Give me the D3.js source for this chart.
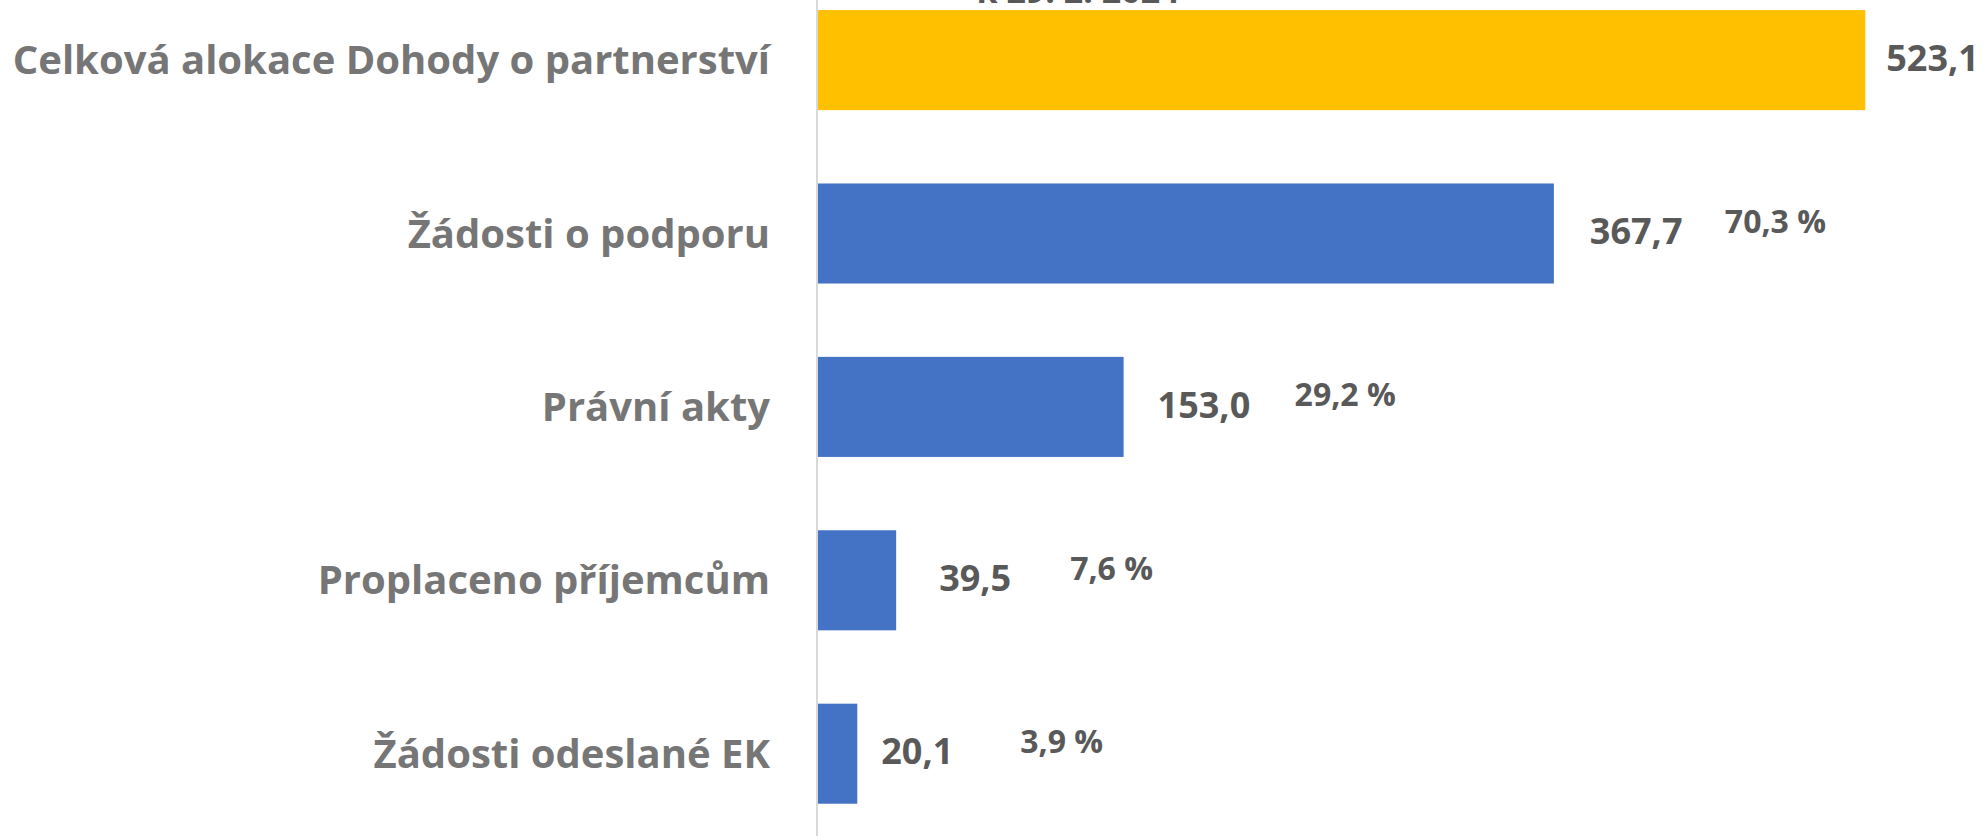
<!DOCTYPE html>
<html>
<head>
<meta charset="utf-8">
<script src="https://cdn.jsdelivr.net/npm/d3@7"></script>
<style>
  html, body { margin: 0; padding: 0; background: #ffffff; overflow: hidden; }
  svg { display: block; }
</style>
</head>
<body>
<svg id="chart" width="1985" height="836"></svg>
<script>
// ---- data ----
const categories = [
  "Celková alokace Dohody o partnerství",
  "Žádosti o podporu",
  "Právní akty",
  "Proplaceno příjemcům",
  "Žádosti odeslané EK"
];
const values = [523.1, 367.7, 153.0, 39.5, 20.1];
const valueLabels = ["523,1", "367,7", "153,0", "39,5", "20,1"];
const percentLabels = ["", "70,3 %", "29,2 %", "7,6 %", "3,9 %"];
const titleText = "k 29. 2. 2024";

// ---- layout / style (kept apart from data) ----
const barColors = ["#FFC000", "#4472C4", "#4472C4", "#4472C4", "#4472C4"];
const valueLabelGap = [21, 36, 34, 43, 24];
const percentLabelGap = [0, 135, 137, 131, 139];
const FONT = "'Open Sans', 'Noto Sans', sans-serif";

const W = 1985, H = 836;
const svg = d3.select("#chart");

const x = d3.scaleLinear().domain([0, 600]).range([817, 817 + 600 * 2.004]);
const y = d3.scaleBand()
  .domain(categories)
  .range([-26.6, 840.4])
  .paddingInner(0.423)
  .paddingOuter(0.2115);

// title fragment (cut off at top, as in the reference)
svg.append("text")
  .attr("x", 1078).attr("y", 3)
  .attr("text-anchor", "middle")
  .attr("font-family", FONT).attr("font-weight", 700)
  .attr("font-size", 34).attr("fill", "#595959")
  .text(titleText);

// bars
svg.selectAll("rect.bar")
  .data(values)
  .join("rect")
  .attr("class", "bar")
  .attr("x", x(0))
  .attr("y", (d, i) => y(categories[i]))
  .attr("width", d => x(d) - x(0))
  .attr("height", y.bandwidth())
  .attr("fill", (d, i) => barColors[i]);

// vertical axis line
svg.append("line")
  .attr("x1", x(0)).attr("x2", x(0))
  .attr("y1", 0).attr("y2", H)
  .attr("stroke", "#D9D9D9").attr("stroke-width", 2);

// category labels
const yAxis = d3.axisLeft(y).tickSize(0).tickPadding(0);
const gy = svg.append("g").attr("transform", `translate(770,0)`).call(yAxis);
gy.select(".domain").remove();
gy.selectAll("text")
  .attr("font-family", FONT).attr("font-weight", 700)
  .attr("font-size", 40).attr("fill", "#767676")
  .attr("dy", "0.35em");

// value labels
svg.selectAll("text.val")
  .data(values)
  .join("text")
  .attr("class", "val")
  .attr("x", (d, i) => x(d) + valueLabelGap[i])
  .attr("y", (d, i) => y(categories[i]) + y.bandwidth() / 2 - 2)
  .attr("dy", "0.35em")
  .attr("font-family", FONT).attr("font-weight", 700)
  .attr("font-size", 36).attr("fill", "#595959")
  .text((d, i) => valueLabels[i]);

// percent labels
svg.selectAll("text.pct")
  .data(values)
  .join("text")
  .attr("class", "pct")
  .attr("x", (d, i) => x(d) + valueLabelGap[i] + percentLabelGap[i])
  .attr("y", (d, i) => y(categories[i]) + y.bandwidth() / 2 - 12)
  .attr("dy", "0.35em")
  .attr("font-family", FONT).attr("font-weight", 700)
  .attr("font-size", 32).attr("fill", "#595959")
  .text((d, i) => percentLabels[i]);
</script>
</body>
</html>
